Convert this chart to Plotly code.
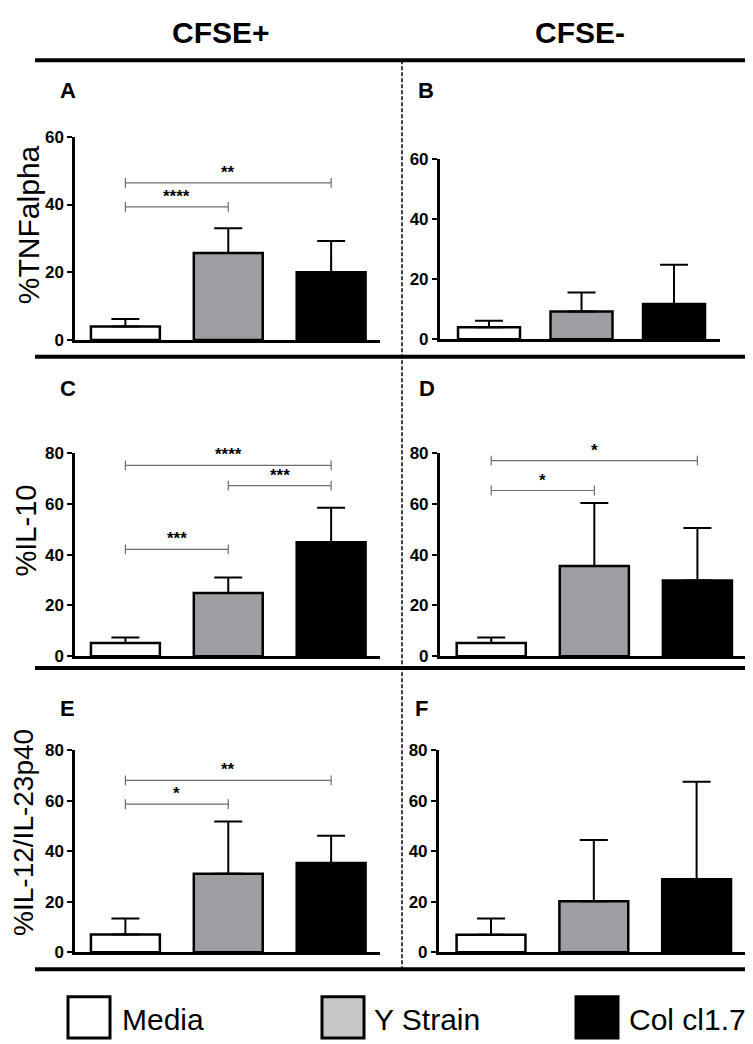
import plotly.graph_objects as go

# ---------------- data ----------------
groups = ["Media", "Y Strain", "Col cl1.7"]
col_headers = ["CFSE+", "CFSE-"]
panel_letters = ["A", "B", "C", "D", "E", "F"]
row_titles = ["%TNFalpha", "%IL-10", "%IL-12/IL-23p40"]

tnf_pos_mean = [4.0, 25.7, 20.0]
tnf_pos_err = [2.2, 7.3, 9.2]
tnf_neg_mean = [4.0, 9.3, 11.8]
tnf_neg_err = [2.2, 6.3, 13.1]
il10_pos_mean = [5.2, 24.9, 44.9]
il10_pos_err = [2.2, 6.1, 13.6]
il10_neg_mean = [5.2, 35.5, 29.8]
il10_neg_err = [2.2, 24.9, 20.7]
il12_pos_mean = [7.1, 31.1, 35.3]
il12_pos_err = [6.3, 20.7, 10.8]
il12_neg_mean = [7.0, 20.2, 28.9]
il12_neg_err = [6.4, 24.2, 38.6]

# significance brackets: (group i, group j, level, label)
sig_A = [(0, 2, 46.4, "**"), (0, 1, 39.3, "****")]
sig_B = []
sig_C = [(0, 2, 75.2, "****"), (1, 2, 67.2, "***"), (0, 1, 42.1, "***")]
sig_D = [(0, 2, 77.1, "*"), (0, 1, 65.3, "*")]
sig_E = [(0, 2, 68.0, "**"), (0, 1, 58.6, "*")]
sig_F = []

yticks_top = [0, 20, 40, 60]
yticks_low = [0, 20, 40, 60, 80]

# ---------------- styling / layout ----------------
W, H = 753, 1044
FONT = "Liberation Sans, Arial, sans-serif"
bar_colors = ["#ffffff", "#9e9ea2", "#000000"]
legend_colors = ["#ffffff", "#c8c8c8", "#000000"]


def px(x):
    return x / W


def py(y):
    return 1 - y / H


panels = [
    dict(mean=tnf_pos_mean, err=tnf_pos_err, sig=sig_A, xpx=(67, 372), ypx=(122, 329),
         yr=60, xr=(-0.49, 2.475), ticks=yticks_top, letter=(50, 75)),
    dict(mean=tnf_neg_mean, err=tnf_neg_err, sig=sig_B, xpx=(431.7, 712), ypx=(145, 328.3),
         yr=60, xr=(-0.533, 2.497), ticks=yticks_top, letter=(408, 75)),
    dict(mean=il10_pos_mean, err=il10_pos_err, sig=sig_C, xpx=(67, 372), ypx=(444.3, 651),
         yr=80, xr=(-0.49, 2.475), ticks=yticks_low, letter=(50, 378)),
    dict(mean=il10_neg_mean, err=il10_neg_err, sig=sig_D, xpx=(431.7, 742), ypx=(444.3, 651),
         yr=80, xr=(-0.5, 2.51), ticks=yticks_low, letter=(409, 378)),
    dict(mean=il12_pos_mean, err=il12_pos_err, sig=sig_E, xpx=(67, 372), ypx=(746.7, 952.7),
         yr=80, xr=(-0.49, 2.475), ticks=yticks_low, letter=(50, 704)),
    dict(mean=il12_neg_mean, err=il12_neg_err, sig=sig_F, xpx=(430.7, 740), ypx=(746.7, 952.7),
         yr=80, xr=(-0.509, 2.5), ticks=yticks_low, letter=(405, 704)),
]

fig = go.Figure()
layout = dict(
    width=W, height=H, margin=dict(l=0, r=0, t=0, b=0),
    paper_bgcolor="white", plot_bgcolor="rgba(0,0,0,0)",
    showlegend=False, font=dict(family=FONT, color="black"),
)
annotations = []
shapes = []

for k, p in enumerate(panels):
    n = k + 1
    xa = "x" if n == 1 else f"x{n}"
    ya = "y" if n == 1 else f"y{n}"
    xkey = "xaxis" if n == 1 else f"xaxis{n}"
    ykey = "yaxis" if n == 1 else f"yaxis{n}"
    layout[xkey] = dict(
        domain=[px(p["xpx"][0]), px(p["xpx"][1])], range=list(p["xr"]), anchor=ya,
        showgrid=False, zeroline=False, showticklabels=False, ticks="",
        showline=True, linecolor="black", linewidth=2.5, fixedrange=True,
    )
    layout[ykey] = dict(
        domain=[py(p["ypx"][1]), py(p["ypx"][0])], range=[0, p["yr"]], anchor=xa,
        showgrid=False, zeroline=False, showline=True, linecolor="black", linewidth=2.5,
        ticks="outside", ticklen=5, tickwidth=2, tickcolor="black",
        tickvals=p["ticks"], ticktext=[str(t) for t in p["ticks"]],
        tickfont=dict(family=FONT, size=17, color="black", weight="bold"),
        ticklabelstandoff=0, fixedrange=True,
    )
    fig.add_trace(go.Bar(
        x=[0, 1, 2], y=p["mean"], width=0.67, xaxis=xa, yaxis=ya,
        marker=dict(color=bar_colors, line=dict(color="black", width=2.5)),
        error_y=dict(type="data", symmetric=False, array=p["err"], arrayminus=[0, 0, 0],
                     color="black", thickness=2, width=14),
        hoverinfo="skip",
    ))
    for (i, j, h, lab) in p["sig"]:
        fig.add_trace(go.Scatter(
            x=[i, j], y=[h, h], xaxis=xa, yaxis=ya, mode="lines+markers",
            line=dict(color="#6e6e6e", width=1.2),
            marker=dict(symbol="line-ns", size=7, line=dict(color="#6e6e6e", width=1.2)),
            hoverinfo="skip", cliponaxis=False,
        ))
        annotations.append(dict(
            x=(i + j) / 2, y=h, xref=xa, yref=ya, text=lab, showarrow=False,
            yanchor="bottom", yshift=-1,
            font=dict(family=FONT, size=17, color="black", weight="bold"),
        ))
    lx, ly = p["letter"]
    annotations.append(dict(
        x=px(lx), y=py(ly), xref="paper", yref="paper", text=panel_letters[k],
        showarrow=False, xanchor="left", yanchor="middle",
        font=dict(family=FONT, size=22, color="black", weight="bold"),
    ))

# row titles (y-axis titles)
title_pos = [(20, 212, 30), (18, 523, 29), (16, 831, 28)]
for t, (tx, ty, fs) in zip(row_titles, title_pos):
    annotations.append(dict(
        x=px(tx), y=py(ty), xref="paper", yref="paper", text=t, textangle=-90,
        showarrow=False, xanchor="center", yanchor="middle",
        font=dict(family=FONT, size=fs, color="black"),
    ))

# column headers
for t, cx in zip(col_headers, [213, 572]):
    annotations.append(dict(
        x=px(cx), y=py(16), xref="paper", yref="paper", text=t, showarrow=False,
        xanchor="center", yanchor="middle",
        font=dict(family=FONT, size=30, color="black", weight="bold"),
    ))

# separators
for yy in [44, 346, 663, 970]:
    shapes.append(dict(type="line", xref="paper", yref="paper",
                       x0=px(27), x1=px(750), y0=py(yy), y1=py(yy),
                       line=dict(color="black", width=4)))
shapes.append(dict(type="line", xref="paper", yref="paper",
                   x0=px(394), x1=px(394), y0=py(44), y1=py(970),
                   line=dict(color="black", width=1.5, dash="4px,2px")))

# legend
legend_box_x = [60, 314, 568]
legend_text_x = [112, 364, 619]
for g, c, bx, tx in zip(groups, legend_colors, legend_box_x, legend_text_x):
    shapes.append(dict(type="rect", xref="paper", yref="paper",
                       x0=px(bx), x1=px(bx + 42), y0=py(1040), y1=py(998),
                       fillcolor=c, line=dict(color="black", width=3)))
    annotations.append(dict(
        x=px(tx), y=py(1021), xref="paper", yref="paper", text=g, showarrow=False,
        xanchor="left", yanchor="middle",
        font=dict(family=FONT, size=30, color="black"),
    ))

layout["annotations"] = annotations
layout["shapes"] = shapes
fig.update_layout(**layout)
fig.write_html("out.html")
